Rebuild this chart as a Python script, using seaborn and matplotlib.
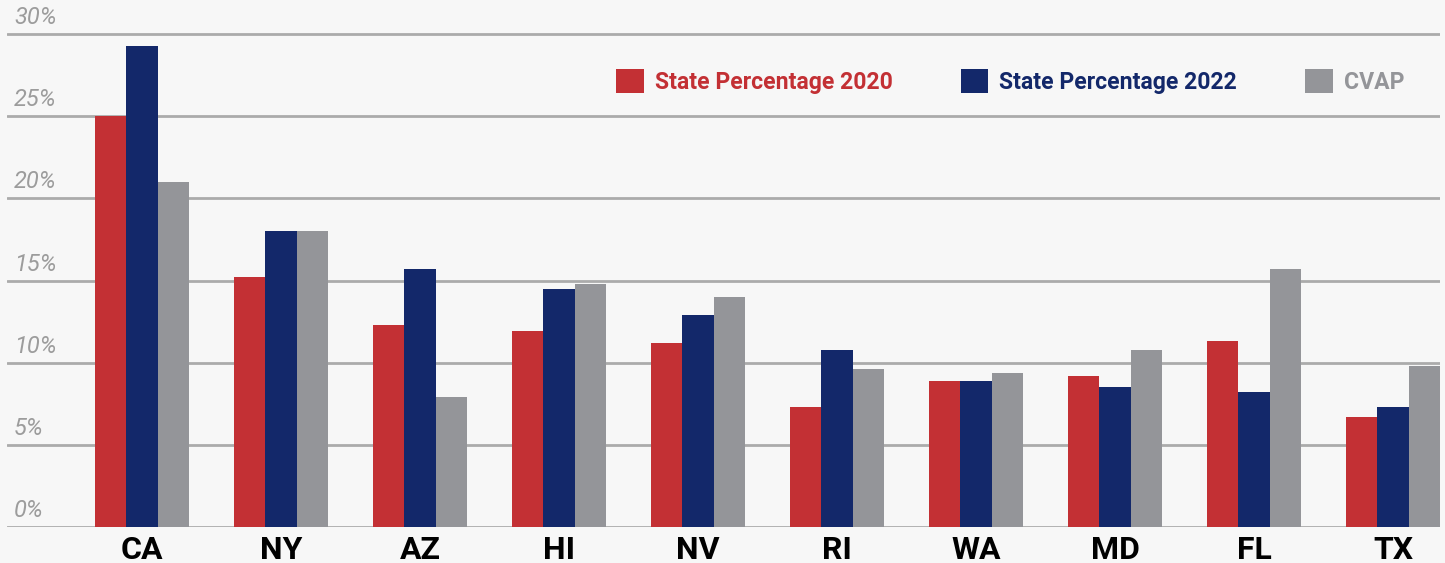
import matplotlib
matplotlib.use("Agg")
import matplotlib.pyplot as plt
import seaborn as sns
import pandas as pd
from matplotlib.patches import Patch
from matplotlib.transforms import blended_transform_factory

states = ["CA", "NY", "AZ", "HI", "NV", "RI", "WA", "MD", "FL", "TX"]
pct_2020 = [25.0, 15.2, 12.3, 11.9, 11.2, 7.3, 8.9, 9.2, 11.3, 6.7]
pct_2022 = [29.3, 18.0, 15.7, 14.5, 12.9, 10.8, 8.9, 8.5, 8.2, 7.3]
cvap = [21.0, 18.0, 7.9, 14.8, 14.0, 9.6, 9.4, 10.8, 15.7, 9.8]
series_names = ["State Percentage 2020", "State Percentage 2022", "CVAP"]
colors = ["#c33034", "#13286a", "#949599"]
y_ticks = [0, 5, 10, 15, 20, 25, 30]
y_tick_labels = ["0%", "5%", "10%", "15%", "20%", "25%", "30%"]

rows = []
for name, vals in zip(series_names, [pct_2020, pct_2022, cvap]):
    for s, v in zip(states, vals):
        rows.append({"state": s, "series": name, "value": v})
df = pd.DataFrame(rows)

sns.set_theme(style="white")
plt.rcParams["font.family"] = ["Roboto", "DejaVu Sans"]

W, H = 1445, 563
fig = plt.figure(figsize=(W / 100, H / 100), dpi=100)
bg = "#f7f7f7"
fig.patch.set_facecolor(bg)

pxu = 16.43
ytop = 30.6
ax = fig.add_axes([7 / W, (H - 527) / H, (1440 - 7) / W, ytop * pxu / H])
ax.set_facecolor(bg)

sns.barplot(data=df, x="state", y="value", hue="series", order=states,
            hue_order=series_names, palette=colors, saturation=1,
            width=0.67, linewidth=0, ax=ax, legend=False, zorder=3)

ax.set_xlim((7 - 142) / 139.0, (1440 - 142) / 139.0)
ax.set_ylim(0, ytop)
ax.set_yticks(y_ticks)
ax.set_yticklabels([])
ax.tick_params(axis="y", length=0)
ax.tick_params(axis="x", length=0, pad=6)
ax.yaxis.grid(True, color="#ababab", linewidth=2)
ax.set_axisbelow(True)
for sp in ax.spines.values():
    sp.set_visible(False)
ax.set_xlabel("")
ax.set_ylabel("")
for lbl in ax.get_xticklabels():
    lbl.set_fontsize(23)
    lbl.set_fontweight("bold")
    lbl.set_color("#000000")

trans = blended_transform_factory(ax.transAxes, ax.transData)
for t, lab in zip(y_ticks, y_tick_labels):
    ax.text(7 / (1440 - 7), t + 0.3, lab, transform=trans, ha="left", va="bottom",
            fontsize=17, style="italic", color="#9c9c9c")

handles = [Patch(facecolor=c, edgecolor="none") for c in colors]
leg = fig.legend(handles, series_names, loc="upper left",
                 bbox_to_anchor=(616 / W, 1 - 69 / H), ncol=3, frameon=False,
                 handlelength=1.2, handleheight=1.2,
                 handletextpad=0.48, columnspacing=2.95, borderpad=0,
                 borderaxespad=0, labelcolor=colors,
                 prop={"weight": "bold", "size": 16.6})

fig.savefig("out.png", dpi=100, facecolor=bg)
